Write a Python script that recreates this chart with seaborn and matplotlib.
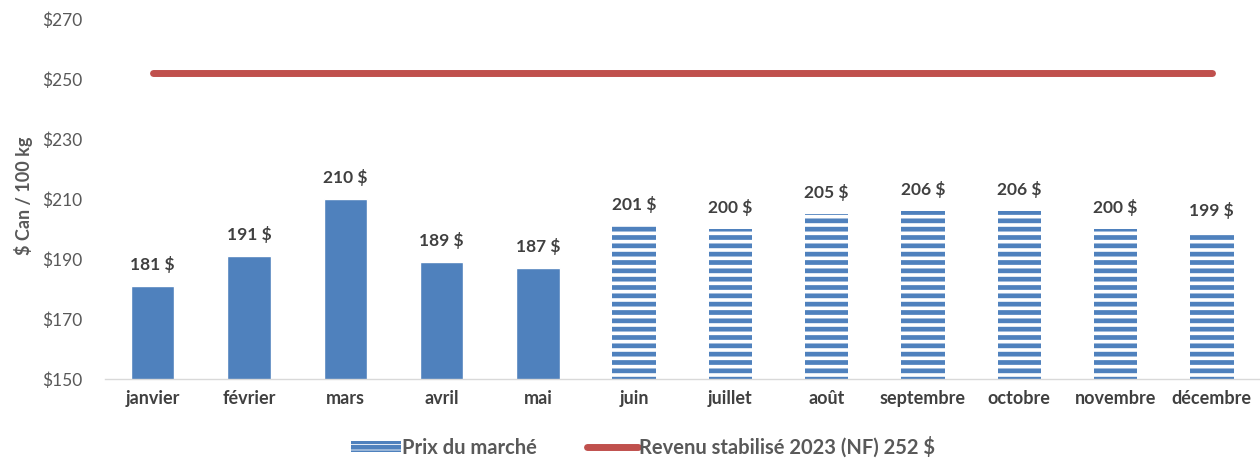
import matplotlib
matplotlib.use("Agg")
import matplotlib.pyplot as plt
import seaborn as sns
import pandas as pd
from matplotlib.patches import Patch
from matplotlib.lines import Line2D

mois = ["janvier", "février", "mars", "avril", "mai", "juin", "juillet",
        "août", "septembre", "octobre", "novembre", "décembre"]
prix = [181, 191, 210, 189, 187, 201, 200, 205, 206, 206, 200, 199]
revenu = [252] * 12
nb_reels = 5  # mois réels, le reste = prévisions (hachurées)

bleu = "#4F81BD"
rouge = "#C0504D"
gris = "#595959"

sns.set_style("white")
plt.rcParams["font.family"] = ["Lato", "DejaVu Sans"]
plt.rcParams["hatch.linewidth"] = 3.4
plt.rcParams["hatch.color"] = bleu

df = pd.DataFrame({"mois": mois, "prix": prix})

fig = plt.figure(figsize=(12.6, 4.59), dpi=100)
ax = fig.add_axes([0.083, 0.1743, 0.917, 0.7843])

sns.barplot(data=df, x="mois", y="prix", color=bleu, width=0.45,
            saturation=1, ax=ax)

for i, p in enumerate(ax.patches):
    if i >= nb_reels:
        p.set_facecolor("white")
        p.set_edgecolor(bleu)
        p.set_hatch("--")
        p.set_linewidth(0)
    ax.annotate(f"{prix[i]} $", (p.get_x() + p.get_width() / 2, prix[i]),
                xytext=(0, 9), textcoords="offset points", ha="center",
                va="bottom", fontsize=12.5, fontweight="bold", color="#404040")

sns.lineplot(x=list(range(12)), y=revenu, color=rouge, linewidth=5,
             solid_capstyle="round", ax=ax)

ax.set_ylim(150, 270)
ax.set_xlim(-0.5, 11.5)
ax.set_yticks(range(150, 271, 20))
ax.set_yticklabels([f"${v}" for v in range(150, 271, 20)])
ax.tick_params(axis="y", labelsize=12.5, colors=gris, length=0, pad=16)
ax.tick_params(axis="x", labelsize=13, colors="#404040", length=0, pad=8)
for lbl in ax.get_xticklabels():
    lbl.set_fontweight("bold")
ax.set_xlabel("")
ax.set_ylabel("$ Can / 100 kg", fontsize=13, fontweight="bold", color=gris)
ax.yaxis.set_label_coords(-0.062, 0.51)

for s in ["top", "right", "left"]:
    ax.spines[s].set_visible(False)
ax.spines["bottom"].set_color("#D9D9D9")
ax.spines["bottom"].set_linewidth(1)

handles = [
    Patch(facecolor="white", edgecolor=bleu, hatch="---", linewidth=0),
    Line2D([0], [0], color=rouge, linewidth=5, solid_capstyle="round"),
]
fig.legend(handles, ["Prix du marché", "Revenu stabilisé 2023 (NF) 252 $"],
           loc="center", bbox_to_anchor=(0.51, 0.026), ncol=2, frameon=False,
           prop={"size": 14.5, "weight": "bold"}, labelcolor=gris,
           handlelength=2.5, handleheight=0.5, handletextpad=0.05,
           columnspacing=2.5)

fig.savefig("out.png", dpi=100)
